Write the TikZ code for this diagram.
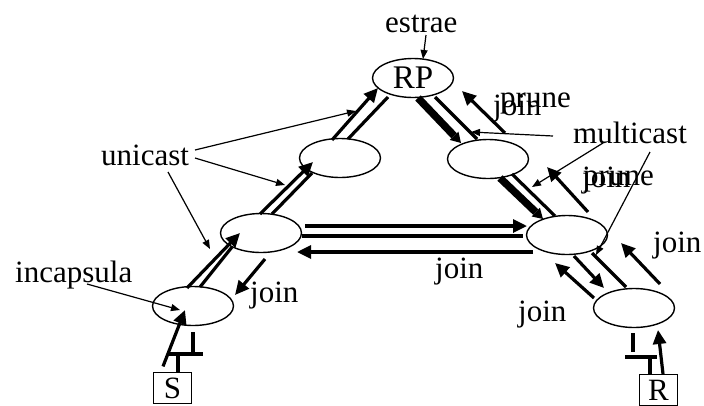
\documentclass[tikz,border=0pt]{standalone}
\usepackage{fontspec}
\setmainfont{Liberation Serif}
\usepackage{tikz}
\usetikzlibrary{positioning}
\usetikzlibrary{shapes,arrows.meta}
\tikzstyle{router} = [ellipse, draw, line width=1.4pt, minimum width=81pt, minimum height=39pt, inner sep=0pt]
\tikzstyle{host} = [rectangle, draw, line width=1.2pt, minimum width=38pt, minimum height=31pt, inner sep=0pt]
\tikzstyle{lbl} = [inner sep=0pt, anchor=base west]
\tikzstyle{pipe} = [draw, line width=3.2pt]
\tikzstyle{line} = [draw, line width=3.2pt, -{Triangle[length=14pt,width=13pt]}]
\tikzstyle{fat} = [draw, line width=7.5pt, -{Triangle[length=10pt,width=12pt,line width'=0pt]}]
\tikzstyle{note} = [draw, line width=1.2pt, -{Triangle[length=9pt,width=7pt]}]

\begin{document}
\begin{tikzpicture}[x=1pt, y=-1pt, font=\fontsize{31}{36}\selectfont]
    \useasboundingbox (0,0) rectangle (704,405);
    % nodes
    \node [router] (rp) at (413,78) {\fontsize{33}{36}\selectfont RP};
    \node [router] (ra) at (340,158) {};
    \node [router] (rb) at (488,159) {};
    \node [router] (rc) at (261,233) {};
    \node [router] (rd) at (567,235) {};
    \node [router] (re) at (193,306) {};
    \node [router] (rf) at (634,308) {};
    \node [host] (src) at (172.5,388) {S};
    \node [host] (dst) at (658.5,390) {R};

    % labels
    \node [lbl] (lestrae) at (385,32) {estrae};
    \node [lbl] (lunicast) at (101,165) {unicast};
    \node [lbl] (lincaps) at (15,282) {incapsula};
    \node [lbl] (lmcast) at (573,143) {multicast};
    \node [lbl] (lprune1) at (500,107) {prune};
    \node [lbl] (ljoin1) at (493,115) {join};
    \node [lbl] (lprune2) at (583,185) {prune};
    \node [lbl] (ljoin2) at (582,187) {join};
    \node [lbl] (ljoin3) at (653,252) {join};
    \node [lbl] (ljoin4) at (435,278) {join};
    \node [lbl] (ljoin5) at (518,321) {join};
    \node [lbl] (ljoin6) at (250,302) {join};

    % edges
    % tunnel from S up to RP
    \path [line] ([shift={(-9.5,-5.5)}]src.north) -- ([shift={(-8,4)}]re.center);
    \path [line] ([shift={(-6,-18)}]re.center) -- ([shift={(-21,0)}]rc.center);
    \path [pipe] ([shift={(7,-19)}]re.center) -- ([shift={(-29,14)}]rc.center);
    \path [line] ([shift={(-1,-19)}]rc.center) -- ([shift={(-27,4)}]ra.center);
    \path [pipe] ([shift={(11,-19)}]rc.center) -- ([shift={(-28,15)}]ra.center);
    \path [line] ([shift={(-8,-18)}]ra.center) -- ([shift={(-35,10)}]rp.center);
    \path [pipe] ([shift={(8,-19)}]ra.center) -- ([shift={(-25,19)}]rp.center);

    % tree from RP down to R
    \path [fat] ([shift={(5,20)}]rp.center) -- ([shift={(-27,-16)}]rb.center);
    \path [pipe] ([shift={(22,19)}]rp.center) -- ([shift={(-11,-20)}]rb.center);
    \path [line] ([shift={(17,-26)}]rb.center) -- ([shift={(49,13)}]rp.center);
    \path [fat] ([shift={(12,19)}]rb.center) -- ([shift={(-24,-16)}]rd.center);
    \path [pipe] ([shift={(24,15)}]rb.center) -- ([shift={(-12,-19)}]rd.center);
    \path [line] ([shift={(21,-23)}]rd.center) -- ([shift={(59,8)}]rb.center);
    \path [line] ([shift={(44,-7)}]rc.center) -- ([shift={(-40,-9)}]rd.center);
    \path [pipe] ([shift={(41,3)}]rc.center) -- ([shift={(-44,1)}]rd.center);
    \path [line] ([shift={(-34,17)}]rd.center) -- ([shift={(36,19)}]rc.center);
    \path [line] ([shift={(4,26)}]rc.center) -- ([shift={(42,-11)}]re.center);
    \path [line] ([shift={(-40,-10)}]rf.center) -- ([shift={(-12,28)}]rd.center);
    \path [line] ([shift={(7,21)}]rd.center) -- ([shift={(-30,-20)}]rf.center);
    \path [pipe] ([shift={(25,18)}]rd.center) -- ([shift={(-8,-21)}]rf.center);
    \path [line] ([shift={(26,-24)}]rf.center) -- ([shift={(54,8)}]rd.center);
    \path [line] ([shift={(4.5,0)}]dst.north) -- ([shift={(24,22)}]rf.center);

    % pruned branches
    \path [pipe] ([shift={(0,26)}]re.center) -- ++(0,20);
    \path [pipe] ([shift={(-25,48)}]re.center) -- ++(35,0);
    \path [pipe] ([shift={(5.5,0)}]src.north) -- ++(0,-17);
    \path [pipe] ([shift={(-1,25)}]rf.center) -- ++(0,19);
    \path [pipe] ([shift={(-9,49)}]rf.center) -- ++(32,0);
    \path [pipe] ([shift={(-8.5,0)}]dst.north) -- ++(0,-17);

    % pointers
    \path [note] ([shift={(41,3)}]lestrae.base west) -- ([shift={(10,-19)}]rp.center);
    \path [note] ([shift={(94,-15)}]lunicast.base west) -- ([shift={(16,-47)}]ra.center);
    \path [note] ([shift={(94,-7)}]lunicast.base west) -- ([shift={(-55,27)}]ra.center);
    \path [note] ([shift={(67,7)}]lunicast.base west) -- ([shift={(-51,16)}]rc.center);
    \path [note] ([shift={(72,2)}]lincaps.base west) -- ([shift={(-13,4)}]re.center);
    \path [note] ([shift={(-20,-7)}]lmcast.base west) -- ([shift={(-17,-27)}]rb.center);
    \path [note] ([shift={(30,0)}]lmcast.base west) -- ([shift={(44,28)}]rb.center);
    \path [note] ([shift={(77,9)}]lmcast.base west) -- ([shift={(29,20)}]rd.center);
\end{tikzpicture}
\end{document}
